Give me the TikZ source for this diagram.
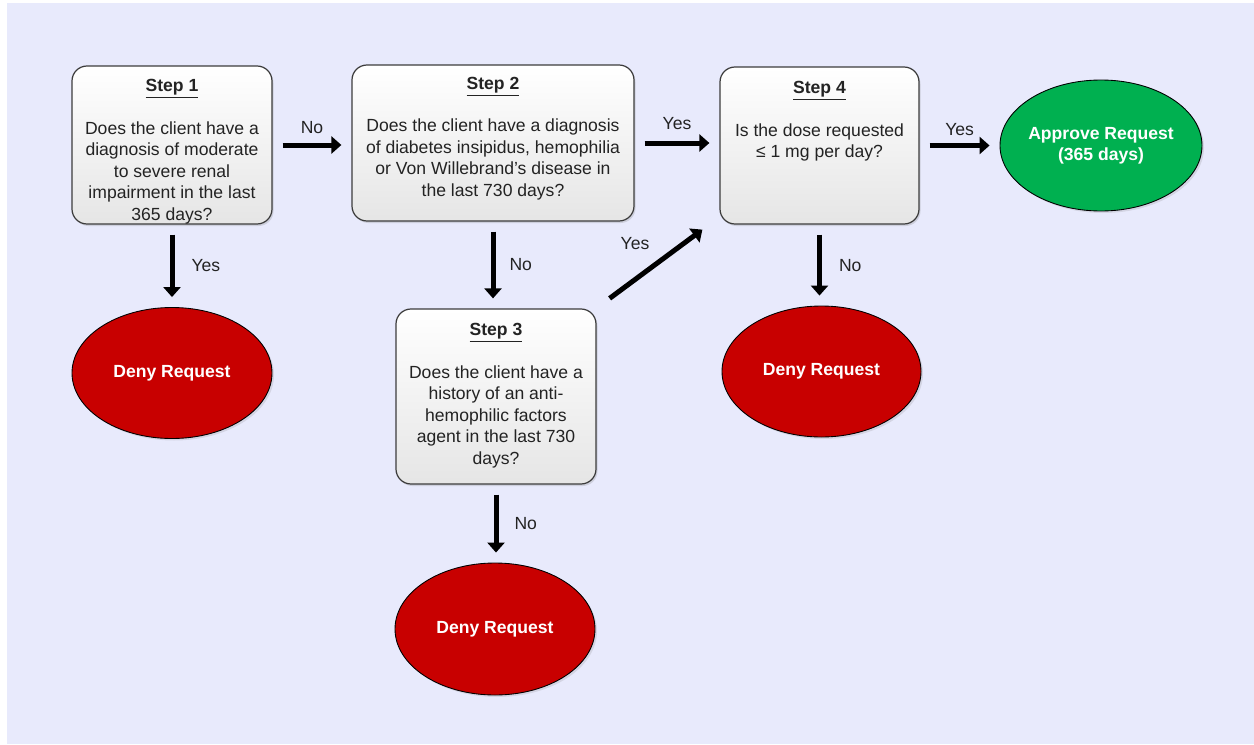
\documentclass[tikz,border=0pt]{standalone}
\usepackage{fontspec}
\setmainfont{Liberation Sans}
\usetikzlibrary{shapes.geometric,arrows.meta,shadows}
\definecolor{backdrop}{RGB}{232,234,252}
\definecolor{deny}{RGB}{200,0,0}
\definecolor{approve}{RGB}{0,176,80}
\definecolor{boxline}{RGB}{60,60,60}
\definecolor{inktext}{RGB}{35,35,35}
\tikzstyle{stepbox}=[draw=boxline, line width=0.7pt, rounded corners=0.3cm, top color=white, bottom color=black!10, minimum width=4cm, drop shadow={opacity=0.25, shadow xshift=0.03cm, shadow yshift=-0.04cm}]
\tikzstyle{steptext}=[anchor=north, align=center, inner sep=0pt, text=inktext, font=\fontsize{10}{12.2}\selectfont]
\tikzstyle{outcome}=[ellipse, draw=black, line width=0.5pt, minimum width=4cm, minimum height=2.62cm, text=white, align=center, font=\bfseries\fontsize{10}{12.2}\selectfont, drop shadow={opacity=0.2, shadow xshift=0.04cm, shadow yshift=-0.04cm}]
\tikzstyle{denied}=[outcome, fill=deny]
\tikzstyle{approved}=[outcome, fill=approve, inner xsep=-0.3cm]
\tikzstyle{flow}=[-{Triangle[length=0.2cm,width=0.34cm]}, line width=0.1cm, shorten <=0.2cm, shorten >=0.2cm]
\tikzstyle{answer}=[inner sep=0pt, text=inktext, font=\fontsize{10}{12.2}\selectfont]
\newcommand{\steptitle}[1]{\underline{\textbf{#1}}}

\begin{document}
\begin{tikzpicture}
  \useasboundingbox (0,0) rectangle (25.08,14.88);
  \fill[backdrop] (0.14,0) rectangle (25.08,14.82);

  %% Steps
  \draw (3.44,11.98) node[stepbox, minimum height=3.16cm] (s1) {};
  \draw (9.86,12.02) node[stepbox, minimum width=5.64cm, minimum height=3.12cm] (s2) {};
  \draw (9.92,6.95) node[stepbox, minimum height=3.5cm] (s3) {};
  \draw (16.39,11.97) node[stepbox, minimum width=3.98cm, minimum height=3.14cm] (s4) {};

  \draw ([yshift=-0.27cm]s1.north) node[steptext] (s1q) {\steptitle{Step 1}\\[12.2pt]Does the client have a\\diagnosis of moderate\\to severe renal\\impairment in the last\\365 days?};
  \draw ([yshift=-0.24cm]s2.north) node[steptext] (s2q) {\steptitle{Step 2}\\[12.2pt]Does the client have a diagnosis\\of diabetes insipidus, hemophilia\\or Von Willebrand’s disease in\\the last 730 days?};
  \draw ([yshift=-0.29cm]s3.north) node[steptext] (s3q) {\steptitle{Step 3}\\[12.2pt]Does the client have a\\history of an anti-\\hemophilic factors\\agent in the last 730\\days?};
  \draw ([yshift=-0.29cm]s4.north) node[steptext] (s4q) {\steptitle{Step 4}\\[12.2pt]Is the dose requested\\≤ 1 mg per day?};

  %% Outcomes
  \draw (3.44,7.42) node[denied] (deny1) {Deny Request};
  \draw (9.90,2.30) node[denied, minimum height=2.64cm] (deny3) {Deny Request};
  \draw (16.43,7.45) node[denied, minimum width=3.98cm] (deny4) {Deny Request};
  \draw (22.02,11.97) node[approved, minimum width=4.04cm] (ok) {Approve Request\\(365 days)};

  %% Arrows
  \draw[flow] (s1.east) -- (s1.east -| s2.west) node[midway, above=0.18cm, answer] {No};
  \draw[flow] (s2.east) -- (s2.east -| s4.west) node[midway, above=0.22cm, answer] {Yes};
  \draw[flow] (s4.east) -- (s4.east -| ok.west) node[midway, above=0.15cm, answer] {Yes};

  \draw[flow] (s1.south) -- (deny1.north) node[midway, right=0.34cm, answer] {Yes};
  \draw[flow] (s2.south) -- (s2.south |- s3.north) node[midway, right=0.28cm, answer] {No};
  \draw[flow] (s4.south) -- (s4.south |- deny4.north) node[midway, right=0.34cm, answer] {No};
  \draw[flow] (s3.south) -- (s3.south |- deny3.north) node[midway, right=0.32cm, answer] {No};

  \draw[flow, shorten <=0cm, shorten >=0cm] ([shift={(0.26,0.2)}]s3.north east) -- ([shift={(-0.34,-0.1)}]s4.south west) node[midway, answer, xshift=-0.42cm, yshift=0.4cm] {Yes};
\end{tikzpicture}
\end{document}
